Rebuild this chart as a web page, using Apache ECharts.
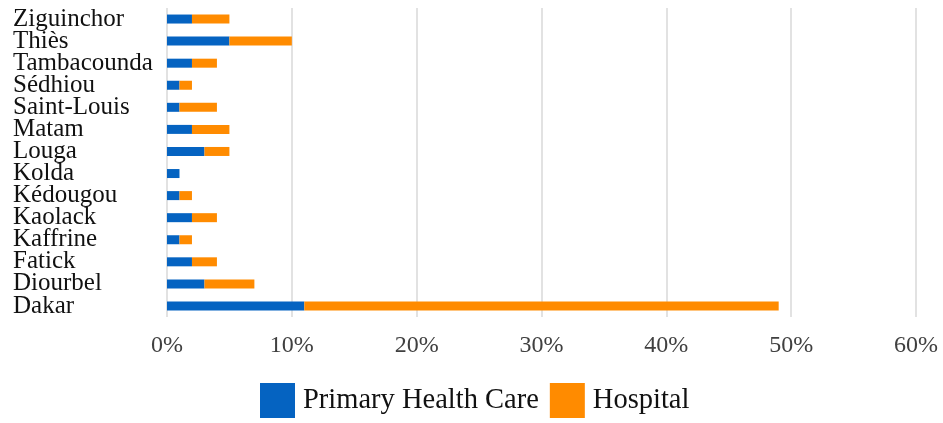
<!DOCTYPE html>
<html>
<head>
<meta charset="utf-8">
<script src="https://cdn.jsdelivr.net/npm/echarts@6/dist/echarts.min.js"></script>
<style>html,body{margin:0;padding:0;background:#fff;}#c{width:943px;height:423px;}</style>
</head>
<body>
<div id="c"></div>
<script>
const categories = ["Dakar","Diourbel","Fatick","Kaffrine","Kaolack","Kédougou","Kolda","Louga","Matam","Saint-Louis","Sédhiou","Tambacounda","Thiès","Ziguinchor"];
const primaryHealthCare = [11, 3, 2, 1, 2, 1, 1, 3, 2, 1, 1, 2, 5, 2];
const hospital = [38, 4, 2, 1, 2, 1, 0, 2, 3, 3, 1, 2, 5, 3];
const xTicks = [0, 10, 20, 30, 40, 50, 60];

const chart = echarts.init(document.getElementById('c'));
chart.setOption({
  animation: false,
  textStyle: { fontFamily: 'Liberation Serif, Times New Roman, serif' },
  grid: { left: 167, right: 27, top: 8, bottom: 106, containLabel: false },
  legend: {
    bottom: 0, left: 255,
    itemWidth: 35, itemHeight: 35, itemGap: 11,
    icon: 'rect',
    textStyle: { fontSize: 28.5, color: '#111', fontFamily: 'Liberation Serif, serif', padding: [0, 0, 0, 3] },
    data: ['Primary Health Care', 'Hospital']
  },
  xAxis: {
    type: 'value', min: xTicks[0], max: xTicks[xTicks.length - 1], interval: 10,
    axisLine: { show: false }, axisTick: { show: false },
    splitLine: { show: true, lineStyle: { color: '#d9d9d9', width: 1.5 } },
    axisLabel: { formatter: v => v + '%', fontSize: 24, color: '#404040', margin: 17, fontFamily: 'Liberation Serif, serif' }
  },
  yAxis: {
    type: 'category', data: categories,
    axisLine: { show: false }, axisTick: { show: false },
    axisLabel: { align: 'left', margin: 154, fontSize: 25, color: '#111', fontFamily: 'Liberation Serif, serif', interval: 0, padding: [3, 0, 0, 0] }
  },
  series: [
    { name: 'Primary Health Care', type: 'bar', stack: 't', data: primaryHealthCare, barWidth: 9, itemStyle: { color: '#0563c1' } },
    { name: 'Hospital', type: 'bar', stack: 't', data: hospital, barWidth: 9, itemStyle: { color: '#ff8b00' } }
  ]
});
</script>
</body>
</html>
